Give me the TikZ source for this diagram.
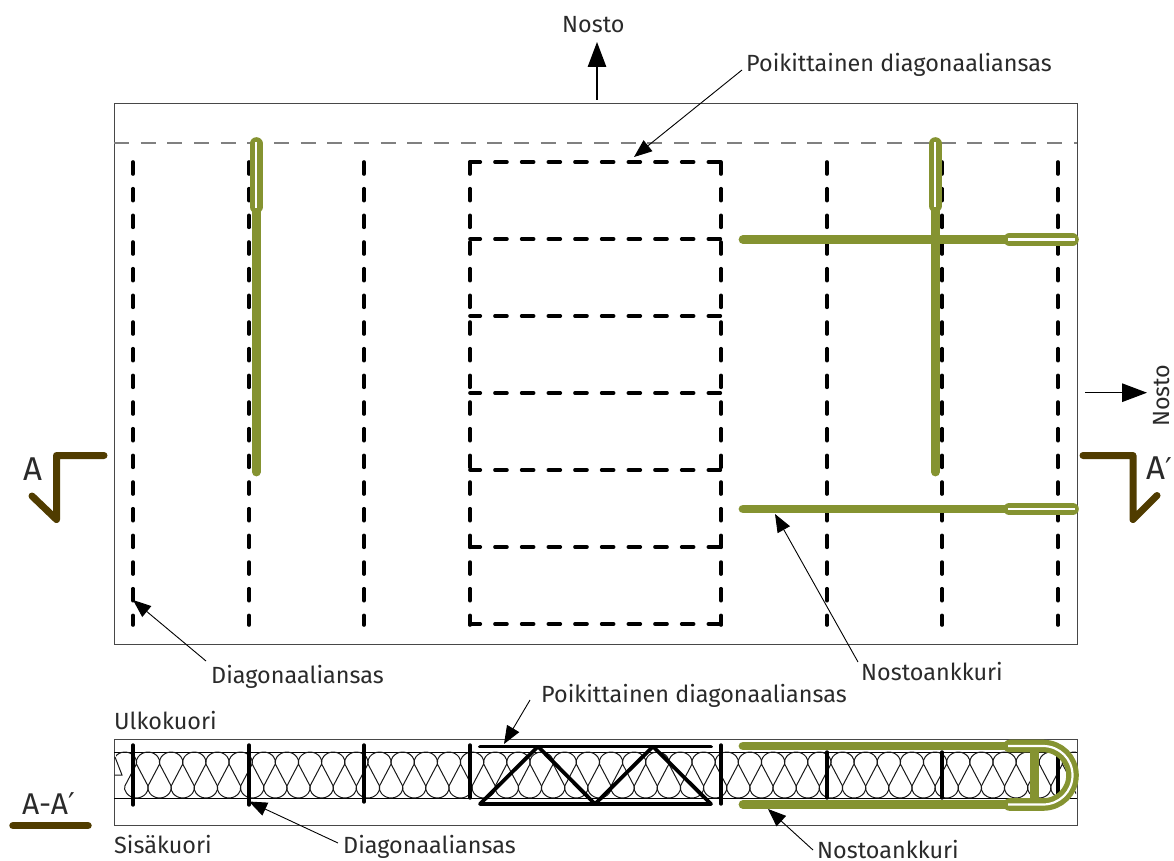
\documentclass[tikz,border=0pt]{standalone}
\usepackage{fontspec}
\setmainfont{Fira Sans}
\newfontfamily\primefont{DejaVu Sans}
\usetikzlibrary{arrows.meta}
\definecolor{anchorgreen}{HTML}{859331}
\definecolor{markbrown}{HTML}{503C00}
\definecolor{textgrey}{HTML}{2A2A2A}
\newcommand{\primemark}{{\primefont\fontsize{30}{36}\selectfont ′}}
\tikzset{
  frameline/.style={draw=black!72,line width=1pt},
  sheetline/.style={draw=black,line width=1pt},
  liftline/.style={draw=black!50,line width=1.4pt,dash pattern=on 15pt off 11.67pt},
  truss/.style={draw=black,line width=3.6pt,line cap=round,dash pattern=on 12pt off 14.67pt},
  trusshoriz/.style={truss,dash phase=1.7pt},
  secbar/.style={draw=black,line width=3.4pt,line cap=round},
  sectruss/.style={draw=black,line width=3.8pt,line cap=round,line join=round},
  insul/.style={draw=black!90,line width=1pt},
  anchorbar/.style={draw=anchorgreen,line width=8.8pt,line cap=round},
  anchorloop/.style={draw=anchorgreen,line width=12.6pt,line cap=round},
  anchorgap/.style={draw=white,line width=2.2pt},
  secmark/.style={draw=markbrown,line width=7pt,line cap=round,line join=round},
  leader/.style={draw=black,line width=0.9pt,-{Triangle[length=18pt,width=14pt]}},
  liftarrow/.style={draw=black,line width=1.3pt,-{Triangle[length=25pt,width=18.5pt]}},
  lbl/.style={inner sep=0pt,anchor=base west,text=textgrey,font=\fontsize{23.4}{27}\selectfont},
  biglbl/.style={inner sep=0pt,anchor=base west,text=textgrey,font=\fontsize{33}{38}\selectfont},
}
\begin{document}
\begin{tikzpicture}[x=1pt,y=-1pt]
\path[use as bounding box] (0,0) rectangle (1174,861);
% plan
\draw[frameline] (114,104) rectangle (1077,644);
\draw[liftline] (114,143) -- (1077,143);
\foreach \xx in {133,249,364,470,721,827,942,1058} {\draw[truss] (\xx,162) -- (\xx,625);}
\foreach \yy in {162,239,316,393,470,547,624} {\draw[trusshoriz] (470,\yy) -- (721,\yy);}
% plan anchors
\draw[anchorbar] (256.3,210) -- (256.3,472);
\draw[anchorloop] (256.3,143.5) -- (256.3,207);
\draw[anchorgap] (256.3,142) -- (256.3,208);
\draw[anchorbar] (935.3,210) -- (935.3,472);
\draw[anchorloop] (935.3,143.5) -- (935.3,206);
\draw[anchorgap] (935.3,142) -- (935.3,207);
\draw[anchorbar] (743,239.5) -- (1006,239.5);
\draw[anchorloop] (1009.5,239.5) -- (1072.5,239.5);
\draw[anchorgap] (1008,239.5) -- (1075,239.5);
\draw[anchorbar] (743,509) -- (1006,509);
\draw[anchorloop] (1009.5,509) -- (1072.5,509);
\draw[anchorgap] (1008,509) -- (1075,509);
% section marks
\draw[secmark] (104,455.5) -- (56.5,455.5) -- (56.5,519.5) -- (32,496);
\draw[secmark] (1083,455.5) -- (1133,455.5) -- (1133,519.5) -- (1157,495.5);
\node[biglbl] (markA) at (23,480) {A};
\node[biglbl] (markB) at (1146,479.5) {A\primemark};
% section
\draw[frameline] (114,739) rectangle (1077,825);
\draw[sheetline] (114,752) -- (1077,752);
\draw[sheetline] (114,798) -- (1077,798);
\begin{scope}
\clip (114.5,748) rectangle (1076,802);
\foreach \k in {-1,...,40} {
  \pgfmathsetmacro\cc{148+23.15*\k}
  \begin{scope}[shift={(\cc,0)}]
  \draw[insul] (-11.575,764) .. controls (-13.5,760.4) and (-8.5,752) .. (0,752)
     .. controls (8.5,752) and (13.5,760.4) .. (11.575,764) -- (0,786)
     .. controls (-1.9,789.6) and (3.1,798) .. (11.575,798)
     .. controls (20.05,798) and (25.05,789.6) .. (23.15,786) -- (11.575,764);
  \end{scope}
}
\fill[white] (114.5,753) rectangle (116,772);
\draw[insul] (115,757) -- (122,775) -- (114.5,775);
\end{scope}
\draw[secbar] (133,745) -- (133,805);
\draw[secbar] (249,745) -- (249,805);
\draw[secbar] (364,745) -- (364,802);
\draw[secbar] (470,745) -- (470,798);
\draw[secbar] (721,745) -- (721,804);
\draw[secbar] (827,752) -- (827,798);
\draw[secbar] (942,752) -- (942,798);
\draw[secbar] (1058,748) -- (1058,802);
\draw[sectruss] (480,746.5) -- (711,746.5);
\draw[sectruss] (480,804) -- (538,746.5) -- (595,804) -- (653,746.5) -- (711,804) -- cycle;
% section anchor
\draw[anchorbar] (743,746) -- (1006,746);
\draw[anchorbar] (743,804.5) -- (1006,804.5);
\draw[draw=anchorgreen,line width=9pt] (1034.5,749) -- (1034.5,802);
\draw[anchorgreen,line width=12.6pt,line cap=round]
  (1009.5,746) -- (1043,746) .. controls (1059.5,746) and (1072.5,759) .. (1072.5,775.2)
  .. controls (1072.5,791.5) and (1059.5,804.5) .. (1043,804.5) -- (1009.5,804.5);
\draw[anchorgap]
  (1008,746) -- (1043,746) .. controls (1059.5,746) and (1072.5,759) .. (1072.5,775.2)
  .. controls (1072.5,791.5) and (1059.5,804.5) .. (1043,804.5) -- (1008,804.5);
% labels
\node[lbl] (nostoTop) at (562,33) {Nosto};
\node[lbl] (poikTop) at (746,72) {Poikittainen diagonaaliansas};
\node[lbl,rotate=90] (nostoRight) at (1169.5,427) {Nosto};
\node[lbl] (diagPlan) at (211,683) {Diagonaaliansas};
\node[lbl] (ankPlan) at (861,680) {Nostoankkuri};
\node[lbl] (poikSec) at (541,702) {Poikittainen diagonaaliansas};
\node[lbl] (ulko) at (114,729) {Ulkokuori};
\node[lbl] (sisa) at (114,853) {Sisäkuori};
\node[lbl] (diagSec) at (343,853) {Diagonaaliansas};
\node[lbl] (ankSec) at (817,858) {Nostoankkuri};
\node[biglbl,font=\fontsize{30}{36}\selectfont] (aa) at (22,814) {A-A\primemark};
\coordinate (ulA) at (13,825.7);
\coordinate (ulB) at (88,825.7);
\draw[draw=markbrown,line width=7.5pt,line cap=round] (ulA) -- (ulB);
% leaders and lift arrows
\coordinate (tipPoikTop) at (634,157);
\coordinate (tipDiagPlan) at (133,600);
\coordinate (tipAnkPlan) at (775,514);
\coordinate (tipPoikSec) at (504,744);
\coordinate (tipDiagSec) at (249,801.5);
\coordinate (tipAnkSec) at (768,809);
\coordinate (liftTopBase) at (597,100);
\coordinate (liftTopTip) at (597,42);
\coordinate (liftRightBase) at (1085,392.7);
\coordinate (liftRightTip) at (1147,392.7);
\draw[leader] (poikTop.base west) ++(-4,-2) -- (tipPoikTop);
\draw[leader] (diagPlan.base west) ++(-5,-22) -- (tipDiagPlan);
\draw[leader] (ankPlan.base west) ++(-3,-18) -- (tipAnkPlan);
\draw[leader] (poikSec.base west) ++(-11,-2) -- (tipPoikSec);
\draw[leader] (diagSec.base west) ++(-5,-10) -- (tipDiagSec);
\draw[leader] (ankSec.base west) ++(-4,-8) -- (tipAnkSec);
\draw[liftarrow] (liftTopBase) -- (liftTopTip);
\draw[liftarrow] (liftRightBase) -- (liftRightTip);
\end{tikzpicture}
\end{document}
